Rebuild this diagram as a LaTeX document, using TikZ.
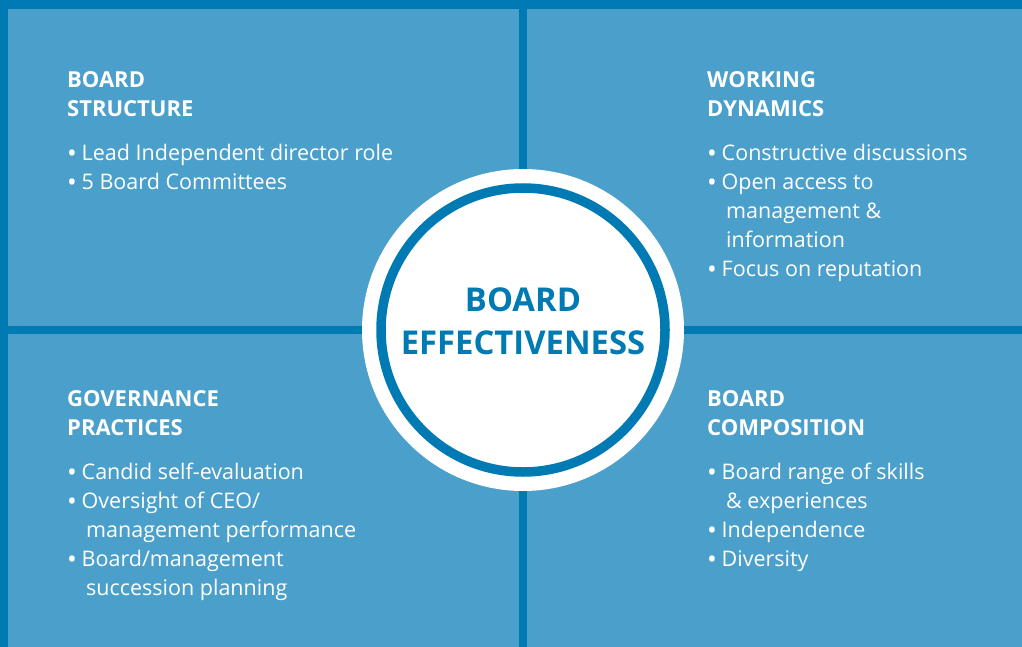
\documentclass[tikz,border=0pt]{standalone}
\usepackage{fontspec}
\setmainfont{Open Sans}
\usetikzlibrary{positioning}

\definecolor{panelblue}{HTML}{4BA0CB}
\definecolor{lineblue}{HTML}{007AB2}

\newcommand{\bul}{\makebox[14.5pt][l]{\raisebox{-2.5pt}{\fontsize{26}{29}\selectfont•}}}
\newcommand{\cont}{\hspace*{19pt}}
\newcommand{\hd}[1]{{\fontsize{22}{29}\selectfont\bfseries #1}}

\tikzset{
  quad/.style={anchor=north west, inner sep=0pt, align=left, text=white,
    font=\fontsize{21.5}{29}\selectfont},
  bar/.style={fill=lineblue, draw=none},
}

\begin{document}
\begin{tikzpicture}[x=1pt,y=-1pt]
      \useasboundingbox (0,0) rectangle (1022,647);
      \fill[panelblue] (0,0) rectangle (1022,647);

      \fill[bar] (0,0) rectangle (1022,9);
      \fill[bar] (0,0) rectangle (8,647);
      \fill[bar] (519,0) rectangle (527,647);
      \fill[bar] (0,326) rectangle (1022,334);

      \coordinate (c) at (523,330);
      \fill[white] (c) circle[radius=161];
      \draw[lineblue,line width=9.5pt] (c) circle[radius=142];

      \node[text=lineblue,align=center,inner sep=0pt,
        font=\fontsize{32.8}{42.7}\selectfont\bfseries] (center) at (523,321)
        {BOARD\\EFFECTIVENESS};

      \node[quad] (structure) at (67,66.7)
        {\strut\hd{BOARD}\\\hd{STRUCTURE}\\[15pt]
         \bul Lead Independent director role\\
         \bul 5 Board Committees};
      \node[quad] (dynamics) at (707,66.7)
        {\strut\hd{WORKING}\\\hd{DYNAMICS}\\[15pt]
         \bul Constructive discussions\\
         \bul Open access to\\
         \cont management \&\\
         \cont information\\
         \bul Focus on reputation};
      \node[quad] (practices) at (67,385.7)
        {\strut\hd{GOVERNANCE}\\\hd{PRACTICES}\\[15pt]
         \bul Candid self-evaluation\\
         \bul Oversight of CEO/\\
         \cont management performance\\
         \bul Board/management\\
         \cont succession planning};
      \node[quad] (composition) at (707,385.7)
        {\strut\hd{BOARD}\\\hd{COMPOSITION}\\[15pt]
         \bul Board range of skills\\
         \cont \& experiences\\
         \bul Independence\\
         \bul Diversity};
\end{tikzpicture}
\end{document}
